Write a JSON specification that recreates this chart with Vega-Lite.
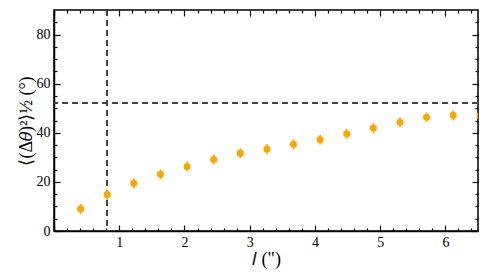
{
  "$schema": "https://vega.github.io/schema/vega-lite/v6.json",
  "width": 424,
  "height": 221,
  "autosize": "none",
  "padding": {"left": 54, "top": 10, "right": 10, "bottom": 48},
  "background": "white",
  "config": {
    "font": "Liberation Serif",
    "view": {"stroke": "black", "strokeWidth": 1.5},
    "axis": {"domainColor": "black", "domainWidth": 1.5, "tickColor": "black", "tickWidth": 1.2, "grid": false, "labelFont": "Liberation Serif", "labelFontSize": 14, "labelColor": "black", "titleFont": "Liberation Serif", "titleFontSize": 18, "titleColor": "black", "titleFontWeight": "normal"}
  },
  "data": {"values": [
    {"l": 0.408, "s": 9.0, "err": 2.0},
    {"l": 0.816, "s": 14.8, "err": 2.0},
    {"l": 1.224, "s": 19.4, "err": 2.0},
    {"l": 1.632, "s": 23.1, "err": 2.0},
    {"l": 2.040, "s": 26.3, "err": 2.0},
    {"l": 2.448, "s": 29.1, "err": 2.0},
    {"l": 2.856, "s": 31.7, "err": 2.0},
    {"l": 3.264, "s": 33.4, "err": 2.0},
    {"l": 3.672, "s": 35.3, "err": 2.0},
    {"l": 4.080, "s": 37.2, "err": 2.0},
    {"l": 4.488, "s": 39.6, "err": 2.0},
    {"l": 4.896, "s": 41.9, "err": 2.0},
    {"l": 5.304, "s": 44.3, "err": 2.0},
    {"l": 5.712, "s": 46.3, "err": 2.0},
    {"l": 6.120, "s": 47.1, "err": 2.0},
    {"l": 6.528, "s": 47.0, "err": 2.0}
  ]},
  "resolve": {"axis": {"x": "independent", "y": "independent"}},
  "layer": [
    {
      "mark": {"type": "rule", "color": "#444444", "strokeDash": [6, 4], "strokeWidth": 1.3},
      "encoding": {"x": {"datum": 0.816, "type": "quantitative", "axis": null}}
    },
    {
      "mark": {"type": "rule", "color": "#444444", "strokeDash": [6, 4], "strokeWidth": 1.3},
      "encoding": {"y": {"datum": 52, "type": "quantitative", "axis": null}}
    },
    {
      "transform": [{"calculate": "datum.s - datum.err", "as": "lo"}, {"calculate": "datum.s + datum.err", "as": "hi"}],
      "mark": {"type": "rule", "color": "#FFA500", "strokeWidth": 1.6, "clip": true},
      "encoding": {
        "x": {"field": "l", "type": "quantitative", "scale": {"domain": [0, 6.5], "nice": false}, "axis": {"orient": "bottom", "values": [0,1,2,3,4,5,6], "labels": false, "tickSize": -6, "domain": false, "title": null}},
        "y": {"field": "lo", "type": "quantitative", "scale": {"domain": [0, 90], "nice": false}, "axis": {"orient": "left", "values": [0,20,40,60,80], "labels": false, "tickSize": -6, "domain": false, "title": null}},
        "y2": {"field": "hi"}
      }
    },
    {
      "mark": {"type": "circle", "color": "#FFA500", "opacity": 1, "size": 50, "clip": true},
      "encoding": {
        "x": {"field": "l", "type": "quantitative", "axis": {"orient": "bottom", "values": [1,2,3,4,5,6], "ticks": false, "labelPadding": 4, "title": "𝑙 (\")", "titlePadding": 1}},
        "y": {"field": "s", "type": "quantitative", "axis": {"orient": "left", "values": [0,20,40,60,80], "ticks": false, "labelPadding": 4, "title": "⟨(Δ𝜃)²⟩½ (°)", "titlePadding": 1}}
      }
    },
    {
      "mark": {"type": "point", "opacity": 0},
      "encoding": {
        "x": {"field": "l", "type": "quantitative", "axis": {"orient": "bottom", "values": [0.2,0.4,0.6,0.8,1.2,1.4,1.6,1.8,2.2,2.4,2.6,2.8,3.2,3.4,3.6,3.8,4.2,4.4,4.6,4.8,5.2,5.4,5.6,5.8,6.2,6.4], "labels": false, "tickSize": -3, "domain": false, "title": null}},
        "y": {"field": "s", "type": "quantitative", "axis": {"orient": "left", "values": [5,10,15,25,30,35,45,50,55,65,70,75,85], "labels": false, "tickSize": -3, "domain": false, "title": null}}
      }
    },
    {
      "mark": {"type": "point", "opacity": 0},
      "encoding": {
        "x": {"field": "l", "type": "quantitative", "axis": {"orient": "top", "values": [0,1,2,3,4,5,6], "labels": false, "tickSize": -6, "domain": false, "title": null}},
        "y": {"field": "s", "type": "quantitative", "axis": {"orient": "right", "values": [0,20,40,60,80], "labels": false, "tickSize": -6, "domain": false, "title": null}}
      }
    },
    {
      "mark": {"type": "point", "opacity": 0},
      "encoding": {
        "x": {"field": "l", "type": "quantitative", "axis": {"orient": "top", "values": [0.2,0.4,0.6,0.8,1.2,1.4,1.6,1.8,2.2,2.4,2.6,2.8,3.2,3.4,3.6,3.8,4.2,4.4,4.6,4.8,5.2,5.4,5.6,5.8,6.2,6.4], "labels": false, "tickSize": -3, "domain": false, "title": null}},
        "y": {"field": "s", "type": "quantitative", "axis": {"orient": "right", "values": [5,10,15,25,30,35,45,50,55,65,70,75,85], "labels": false, "tickSize": -3, "domain": false, "title": null}}
      }
    }
  ]
}
